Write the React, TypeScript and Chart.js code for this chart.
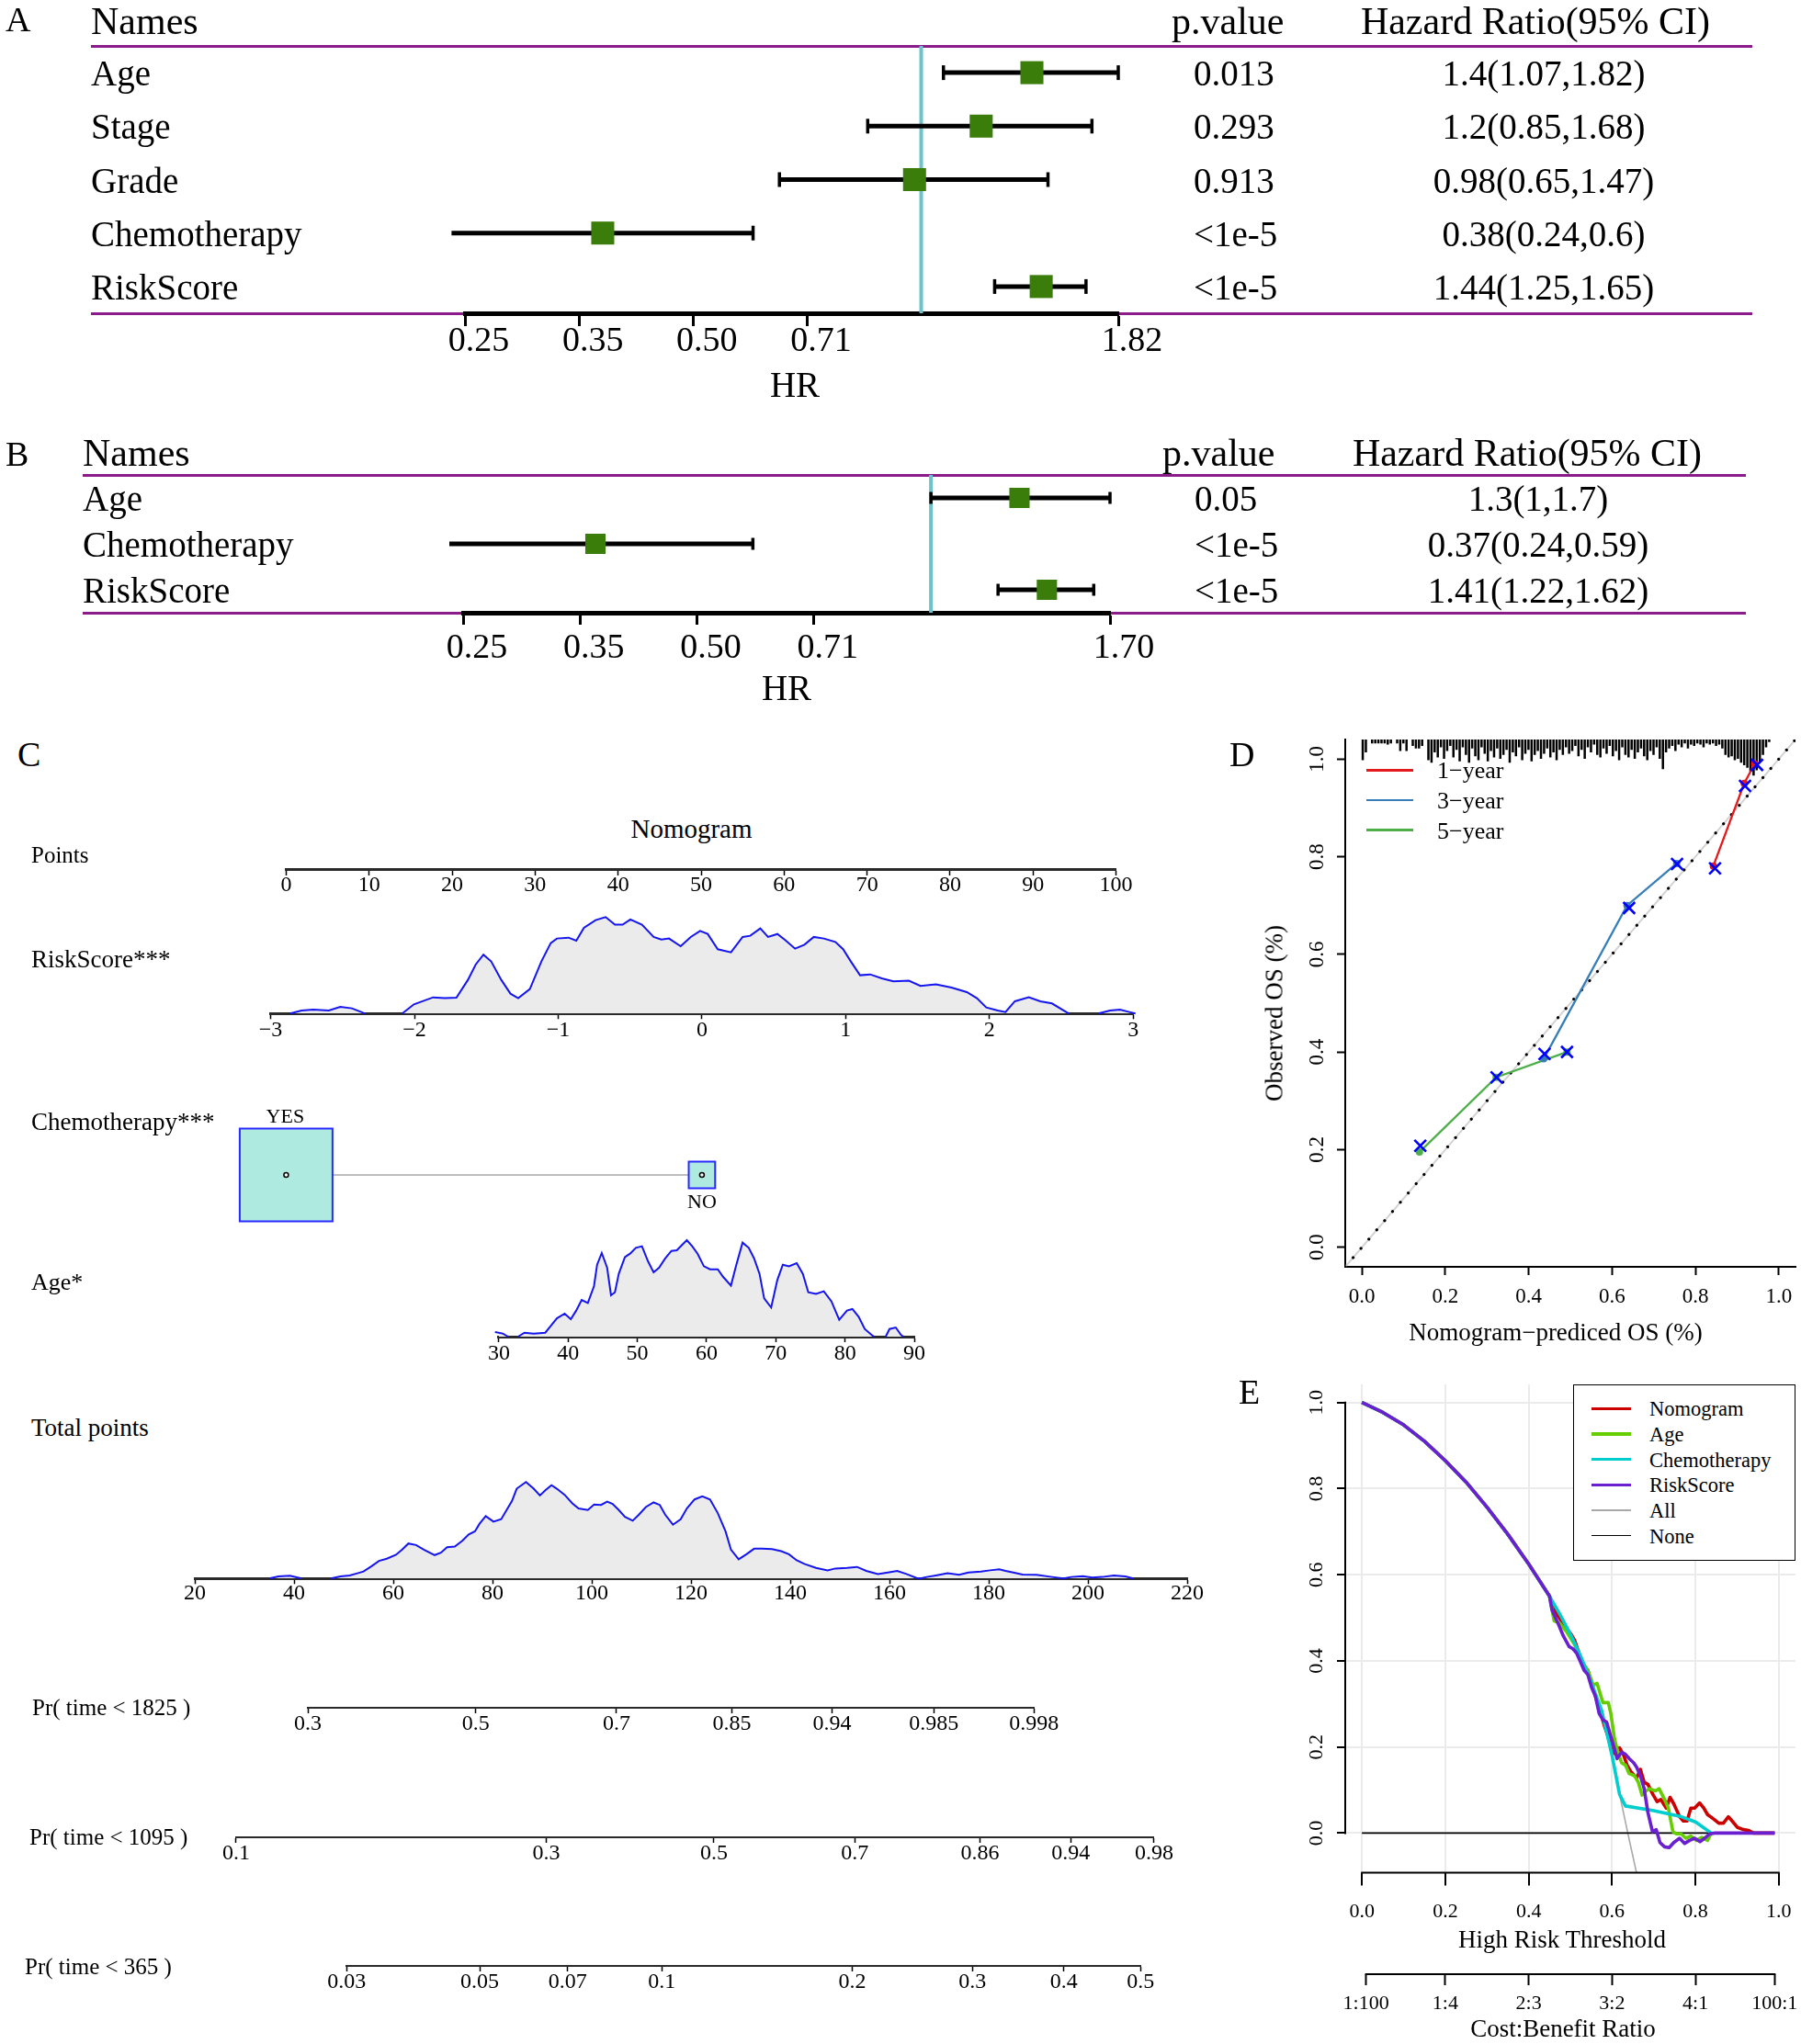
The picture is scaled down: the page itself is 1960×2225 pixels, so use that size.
import React, { useEffect, useRef } from 'react';
import { Chart, registerables } from 'chart.js';

Chart.register(...registerables);

const FONT = '"Liberation Serif", "Times New Roman", Times, serif';
Chart.defaults.font.family = FONT;
Chart.defaults.color = '#000';

/* ======================= DATA ======================= */
// Panel A – univariate Cox
const uniNames = ['Age', 'Stage', 'Grade', 'Chemotherapy', 'RiskScore'];
const uniHR = [1.4, 1.2, 0.98, 0.38, 1.44];
const uniLow = [1.07, 0.85, 0.65, 0.24, 1.25];
const uniHigh = [1.82, 1.68, 1.47, 0.6, 1.65];
const uniP = ['0.013', '0.293', '0.913', '<1e-5', '<1e-5'];
const uniAxisTicks = [0.25, 0.3536, 0.5, 0.7071, 1.82];
const uniAxisLabels = ['0.25', '0.35', '0.50', '0.71', '1.82'];

// Panel B – multivariate Cox
const multiNames = ['Age', 'Chemotherapy', 'RiskScore'];
const multiHR = [1.3, 0.37, 1.41];
const multiLow = [1, 0.24, 1.22];
const multiHigh = [1.7, 0.59, 1.62];
const multiP = ['0.05', '<1e-5', '<1e-5'];
const multiAxisTicks = [0.25, 0.3536, 0.5, 0.7071, 1.7];
const multiAxisLabels = ['0.25', '0.35', '0.50', '0.71', '1.70'];

// Panel C – nomogram
const pointsTicks = [0, 10, 20, 30, 40, 50, 60, 70, 80, 90, 100];
const riskTicks = [-3, -2, -1, 0, 1, 2, 3];
const riskTickLabels = ['\u22123', '\u22122', '\u22121', '0', '1', '2', '3'];
const riskDensity = [
  [-2.865, 0], [-2.785, 0.032], [-2.704, 0.041], [-2.596, 0.032], [-2.516, 0.07], [-2.435, 0.054], [-2.354, 0.006], [-2.343, 0],
  [-2.2, null],
  [-2.085, 0], [-2.004, 0.095], [-1.87, 0.168], [-1.789, 0.159], [-1.708, 0.165], [-1.628, 0.349], [-1.574, 0.508], [-1.52, 0.61],
  [-1.466, 0.54], [-1.396, 0.349], [-1.332, 0.206], [-1.278, 0.159], [-1.197, 0.254], [-1.117, 0.54], [-1.052, 0.73], [-1.009, 0.778],
  [-0.928, 0.787], [-0.874, 0.756], [-0.821, 0.889], [-0.74, 0.968], [-0.67, 1.0], [-0.605, 0.921], [-0.552, 0.921], [-0.498, 0.975],
  [-0.417, 0.921], [-0.336, 0.794], [-0.282, 0.768], [-0.229, 0.778], [-0.148, 0.698], [-0.078, 0.794], [-0.013, 0.857], [0.04, 0.825],
  [0.11, 0.667], [0.202, 0.635], [0.283, 0.794], [0.336, 0.806], [0.406, 0.883], [0.46, 0.794], [0.525, 0.825], [0.579, 0.762],
  [0.648, 0.673], [0.713, 0.714], [0.778, 0.794], [0.848, 0.778], [0.928, 0.743], [0.982, 0.667], [1.036, 0.54], [1.1, 0.397],
  [1.17, 0.406], [1.251, 0.365], [1.332, 0.333], [1.44, 0.34], [1.52, 0.286], [1.628, 0.302], [1.736, 0.27], [1.843, 0.222],
  [1.913, 0.159], [1.978, 0.063], [2.058, 0.032], [2.112, 0.016], [2.177, 0.127], [2.274, 0.168], [2.354, 0.127], [2.435, 0.105],
  [2.553, 0], [2.65, null], [2.758, 0], [2.839, 0.032], [2.909, 0.041], [2.973, 0.016], [3.016, 0],
];
const chemoLevels = ['YES', 'NO'];
const chemoScore = [0, 50.1];
const chemoFreq = [0.925, 0.075];
const ageTicks = [30, 40, 50, 60, 70, 80, 90];
const ageDensity = [
  [28.1, 0], [29.44, 0.048], [30.56, 0.032], [31.34, 0], [32.0, null],
  [32.79, 0], [33.69, 0.041], [35.03, 0.032], [36.7, 0.041], [37.49, 0.111], [38.38, 0.19], [39.5, 0.238], [40.39, 0.181],
  [41.17, 0.27], [41.96, 0.381], [42.85, 0.349], [43.74, 0.524], [44.19, 0.746], [44.86, 0.867], [45.64, 0.714], [46.2, 0.429],
  [46.76, 0.46], [47.32, 0.651], [48.21, 0.825], [48.99, 0.863], [49.78, 0.921], [50.67, 0.937], [51.56, 0.778], [52.35, 0.667],
  [53.13, 0.714], [54.02, 0.81], [54.92, 0.889], [55.7, 0.895], [56.48, 0.952], [57.15, 1.0], [57.93, 0.937], [58.72, 0.857],
  [59.61, 0.73], [60.5, 0.698], [61.62, 0.698], [62.4, 0.619], [63.52, 0.53], [64.3, 0.746], [65.2, 0.975], [66.09, 0.921],
  [66.87, 0.81], [67.65, 0.651], [68.32, 0.397], [69.33, 0.302], [70.22, 0.587], [71.01, 0.746], [71.9, 0.73], [73.02, 0.762],
  [73.91, 0.651], [74.69, 0.46], [75.81, 0.444], [76.93, 0.47], [78.04, 0.365], [79.16, 0.175], [80.28, 0.27], [81.06, 0.286],
  [81.96, 0.206], [82.85, 0.079], [83.97, 0.01], [84.19, 0], [85.0, null],
  [85.87, 0], [86.42, 0.079], [87.32, 0.095], [88.1, 0.016], [88.44, 0],
];
const totalTicks = [20, 40, 60, 80, 100, 120, 140, 160, 180, 200, 220];
const totalDensity = [
  [34.97, 0], [36.84, 0.022], [39.17, 0.028], [41.51, 0], [44.5, null],
  [47.44, 0], [49.31, 0.022], [51.18, 0.032], [52.74, 0.054], [53.98, 0.073], [55.54, 0.126], [57.1, 0.183], [58.66, 0.205],
  [60.53, 0.246], [61.78, 0.3], [63.02, 0.363], [64.58, 0.347], [66.14, 0.3], [68.32, 0.243], [69.57, 0.268], [70.82, 0.325],
  [72.38, 0.331], [73.94, 0.394], [75.18, 0.457], [76.43, 0.489], [77.37, 0.568], [78.61, 0.647], [80.17, 0.59], [81.73, 0.615],
  [82.82, 0.71], [83.91, 0.804], [84.85, 0.931], [86.72, 1.0], [88.28, 0.931], [89.53, 0.861], [90.62, 0.915], [91.86, 0.968],
  [92.95, 0.931], [94.51, 0.868], [96.07, 0.779], [97.32, 0.726], [99.19, 0.71], [100.44, 0.767], [101.84, 0.763], [103.09, 0.798],
  [104.18, 0.773], [105.43, 0.71], [106.67, 0.64], [108.23, 0.599], [109.48, 0.662], [110.88, 0.741], [112.44, 0.789], [113.69, 0.763],
  [114.78, 0.662], [116.34, 0.558], [117.9, 0.615], [119.14, 0.726], [120.7, 0.82], [122.26, 0.852], [123.82, 0.82], [125.38, 0.678],
  [126.94, 0.489], [128.03, 0.3], [129.59, 0.199], [131.15, 0.252], [132.71, 0.309], [134.26, 0.309], [136.29, 0.306], [138.16, 0.284],
  [139.72, 0.252], [141.28, 0.189], [142.84, 0.151], [145.18, 0.11], [147.51, 0.085], [149.07, 0.104], [151.41, 0.11], [153.44, 0.12],
  [155.31, 0.079], [157.65, 0.047], [159.67, 0.063], [161.54, 0.079], [163.41, 0.047], [165.44, 0.006], [166.22, 0], [167.47, 0.016],
  [169.34, 0.032], [171.68, 0.054], [174.02, 0.038], [175.89, 0.063], [178.38, 0.073], [180.25, 0.085], [182.12, 0.095], [183.37, 0.079],
  [184.93, 0.063], [186.8, 0.041], [189.61, 0.038], [192.73, 0.016], [195.06, 0], [196.62, 0.016], [198.96, 0.025], [200.83, 0.009],
  [202.86, 0.016], [205.19, 0.032], [207.53, 0.022], [209.09, 0],
];
const pr1825Pos = [42.76, 76.6, 104.96, 128.2, 148.4, 168.9, 189.1];
const pr1825Labels = ['0.3', '0.5', '0.7', '0.85', '0.94', '0.985', '0.998'];
const pr1095Pos = [28.3, 90.8, 124.6, 153.0, 178.2, 196.5, 213.3];
const pr1095Labels = ['0.1', '0.3', '0.5', '0.7', '0.86', '0.94', '0.98'];
const pr365Pos = [50.6, 77.4, 95.1, 114.1, 152.5, 176.7, 195.1, 210.6];
const pr365Labels = ['0.03', '0.05', '0.07', '0.1', '0.2', '0.3', '0.4', '0.5'];

// Panel D – calibration
const calTicks = [0, 0.2, 0.4, 0.6, 0.8, 1.0];
const calTickLabels = ['0.0', '0.2', '0.4', '0.6', '0.8', '1.0'];
const cal1X = [0.843, 0.917, 0.942];
const cal1Y = [0.781, 0.95, 0.99];
const cal1BcX = [0.847, 0.919, 0.948];
const cal1BcY = [0.776, 0.945, 0.988];
const cal3X = [0.436, 0.636, 0.755];
const cal3Y = [0.386, 0.7, 0.786];
const cal3BcX = [0.438, 0.641, 0.756];
const cal3BcY = [0.396, 0.695, 0.785];
const cal5X = [0.138, 0.322, 0.492];
const cal5Y = [0.195, 0.348, 0.4];
const cal5BcX = [0.14, 0.323, 0.492];
const cal5BcY = [0.208, 0.348, 0.4];
const calLegend = ['1\u2212year', '3\u2212year', '5\u2212year'];
const rugBinStart = 0.002;
const rugBinWidth = 0.0075;
const rugCounts = [16, 10, 0, 3, 3, 3, 3, 3, 4, 3, 0, 3, 9, 3, 9, 0, 5, 7, 7, 5, 0, 16, 18, 10, 14, 6, 15, 9, 5, 14,
  8, 17, 6, 12, 18, 7, 13, 16, 6, 11, 17, 9, 14, 7, 15, 12, 8, 18, 10, 13, 6, 16, 11, 8, 17, 12, 9, 15, 11, 7,
  14, 10, 16, 8, 12, 6, 11, 9, 5, 13, 8, 15, 6, 10, 4, 12, 14, 7, 11, 5, 13, 9, 16, 6, 12, 14, 8, 15, 10, 7,
  13, 16, 9, 12, 6, 15, 23, 10, 7, 5, 9, 4, 6, 3, 7, 4, 5, 3, 4, 6, 3, 4, 3, 5, 4, 7, 12, 14, 13, 16,
  15, 18, 20, 22, 25, 28, 24, 18, 12, 6, 2];

// Panel E – decision curve
const dcaTicks = [0, 0.2, 0.4, 0.6, 0.8, 1.0];
const dcaTickLabels = ['0.0', '0.2', '0.4', '0.6', '0.8', '1.0'];
const cbTicks = [0.0099, 0.2, 0.4, 0.6, 0.8, 0.99];
const cbLabels = ['1:100', '1:4', '2:3', '3:2', '4:1', '100:1'];
const dcaShared = [[0, 1.0], [0.05, 0.977], [0.1, 0.948], [0.15, 0.91], [0.2, 0.865], [0.25, 0.815], [0.3, 0.757], [0.35, 0.694], [0.4, 0.625], [0.45, 0.55]];
const dcaNomogram = [[0.465, 0.513], [0.488, 0.478], [0.501, 0.463], [0.51, 0.448], [0.519, 0.423], [0.528, 0.393], [0.542, 0.378], [0.551, 0.348],
  [0.56, 0.318], [0.573, 0.278], [0.582, 0.248], [0.591, 0.223], [0.6, 0.188], [0.61, 0.183], [0.618, 0.198], [0.627, 0.183], [0.636, 0.158],
  [0.645, 0.143], [0.659, 0.128], [0.668, 0.148], [0.677, 0.118], [0.686, 0.113], [0.699, 0.088], [0.708, 0.073], [0.717, 0.078], [0.73, 0.058],
  [0.739, 0.083], [0.748, 0.068], [0.762, 0.038], [0.771, 0.028], [0.78, 0.028], [0.789, 0.058], [0.798, 0.058], [0.81, 0.07], [0.82, 0.058],
  [0.829, 0.043], [0.843, 0.033], [0.856, 0.023], [0.867, 0.023], [0.879, 0.038], [0.888, 0.028], [0.901, 0.013], [0.915, 0.008], [0.928, 0.006],
  [0.939, 0], [0.99, 0]];
const dcaAge = [[0.461, 0.493], [0.475, 0.487], [0.492, 0.466], [0.51, 0.438], [0.528, 0.398], [0.542, 0.378], [0.555, 0.343], [0.564, 0.348],
  [0.578, 0.303], [0.591, 0.303], [0.597, 0.278], [0.606, 0.218], [0.614, 0.188], [0.623, 0.163], [0.632, 0.158], [0.641, 0.138], [0.654, 0.133],
  [0.663, 0.118], [0.672, 0.088], [0.681, 0.098], [0.69, 0.103], [0.704, 0.098], [0.713, 0.103], [0.726, 0.078], [0.735, 0.058], [0.746, 0.003],
  [0.755, -0.002], [0.766, -0.002], [0.777, -0.012], [0.789, -0.007], [0.802, -0.017], [0.815, -0.01], [0.829, -0.017], [0.838, 0]];
const dcaChemo = [[0.475, 0.508], [0.5, 0.462], [0.525, 0.41], [0.55, 0.35], [0.575, 0.285], [0.6, 0.18], [0.618, 0.09], [0.632, 0.063],
  [0.7, 0.052], [0.766, 0.038], [0.8, 0.026], [0.838, 0]];
const dcaRisk = [[0.456, 0.518], [0.47, 0.488], [0.483, 0.458], [0.497, 0.433], [0.506, 0.428], [0.515, 0.418], [0.524, 0.398], [0.533, 0.378],
  [0.542, 0.368], [0.551, 0.338], [0.56, 0.318], [0.569, 0.278], [0.578, 0.263], [0.587, 0.258], [0.596, 0.228], [0.605, 0.198], [0.612, 0.173],
  [0.623, 0.188], [0.632, 0.183], [0.641, 0.173], [0.652, 0.163], [0.659, 0.153], [0.668, 0.133], [0.677, 0.103], [0.686, 0.048], [0.697, 0.003],
  [0.706, 0.008], [0.715, -0.022], [0.726, -0.032], [0.737, -0.034], [0.748, -0.022], [0.762, -0.012], [0.774, -0.024], [0.786, -0.017],
  [0.798, -0.012], [0.811, -0.02], [0.822, -0.012], [0.834, -0.002], [0.847, 0], [0.99, 0]];
const dcaAll = [[0.475, 0.508], [0.5, 0.462], [0.525, 0.41], [0.55, 0.35], [0.575, 0.285], [0.6, 0.18], [0.618, 0.09], [0.64, -0.01], [0.665, -0.12]];
const dcaNone = [[0, 0], [0.99, 0]];
const dcaLegend = ['Nomogram', 'Age', 'Chemotherapy', 'RiskScore', 'All', 'None'];

/* ======================= STYLE / LAYOUT ======================= */
const PURPLE = '#8b1a8b';
const GREEN = '#3a7d0a';
const CYAN = '#6cc3ca';
const DENS_LINE = '#1515f0';
const DENS_FILL = '#ebebeb';
const CAL_COLORS = ['#E41A1C', '#377EB8', '#4DAF4A'];
const DCA_COLORS = ['#CD0000', '#66CD00', '#00CDCD', '#6a1fd0', '#a8a8a8', '#000000'];
const DCA_WIDTHS = [3.6, 3.6, 3.6, 3.6, 1.6, 1.8];

const PTS_L = 311.4, PTS_R = 1214.6;       // Points axis 0..100
const TP_X0 = 212.1, TP_PER = 5.4;         // total points axis: px of 20, px per point
const tpPx = (v: number) => TP_X0 + (v - 20) * TP_PER;
const BOX_FULL = 105;                      // side (px) of a box holding 100% of the sample
const RUG_UNIT = 1.4 / 532;                // rug: y-units per count

/* ======================= HELPERS ======================= */
const rAxisPlugin: any = {
  id: 'rAxis',
  afterDraw(chart: any, _a: any, opts: any) {
    const ctx = chart.ctx;
    (opts.lines || []).forEach((l: any) => {
      const s = chart.scales[l.id];
      const t = s.ticks;
      if (!t.length) return;
      const a = s.getPixelForValue(t[0].value);
      const b = s.getPixelForValue(t[t.length - 1].value);
      ctx.save();
      ctx.strokeStyle = '#000';
      ctx.lineWidth = l.width || 2;
      ctx.beginPath();
      if (s.isHorizontal()) { ctx.moveTo(a - 1, s.top); ctx.lineTo(b + 1, s.top); }
      else { ctx.moveTo(s.right, a + 1); ctx.lineTo(s.right, b - 1); }
      ctx.stroke();
      ctx.restore();
    });
    (opts.yLabels || []).forEach((l: any) => {
      const s = chart.scales[l.id];
      ctx.save();
      ctx.font = `${l.size}px ${FONT}`;
      ctx.fillStyle = '#000';
      ctx.textAlign = 'center';
      ctx.textBaseline = 'middle';
      s.ticks.forEach((t: any) => {
        const p = s.getPixelForValue(t.value);
        ctx.save();
        ctx.translate(s.right - l.offset, p);
        ctx.rotate(-Math.PI / 2);
        ctx.fillText(t.label, 0, 0);
        ctx.restore();
      });
      ctx.restore();
    });
  },
};

function baseOptions(pad: any, scales: any, extra: any = {}) {
  return {
    responsive: false, animation: false, devicePixelRatio: 1, events: [],
    layout: { padding: pad, autoPadding: false },
    plugins: { legend: { display: false }, tooltip: { enabled: false }, ...extra },
    scales,
  };
}

function hAxis(o: any) {
  return {
    type: o.type || 'linear', position: 'bottom', min: o.min, max: o.max, weight: o.weight || 0,
    afterBuildTicks: (s: any) => { s.ticks = o.ticks.map((v: number) => ({ value: v })); },
    afterFit: (s: any) => { s.height = o.height; s.paddingLeft = 0; s.paddingRight = 0; },
    ticks: {
      callback: (_v: any, i: number) => o.labels[i], font: { family: FONT, size: o.fontSize }, color: '#000',
      padding: o.tickPad, labelOffset: o.labelOffset || 0, autoSkip: false, maxRotation: 0, minRotation: 0,
    },
    grid: {
      drawOnChartArea: !!o.gridColor, color: o.gridColor || '#000', lineWidth: o.gridWidth || 1,
      drawTicks: true, tickLength: o.tickLen, tickWidth: o.tickWidth, tickColor: '#000',
    },
    border: { display: (o.borderWidth || 0) > 0, color: o.borderColor || '#000', width: o.borderWidth || 1 },
  };
}

function vAxis(o: any) {
  return {
    type: 'linear', position: 'left', min: o.min, max: o.max,
    afterBuildTicks: (s: any) => { s.ticks = o.ticks.map((v: number) => ({ value: v })); },
    afterFit: (s: any) => { s.width = o.width; s.paddingTop = 0; s.paddingBottom = 0; },
    ticks: { display: false, callback: (_v: any, i: number) => o.labels[i] },
    grid: {
      drawOnChartArea: !!o.gridColor, color: o.gridColor || '#000', lineWidth: o.gridWidth || 1,
      drawTicks: true, tickLength: o.tickLen, tickWidth: o.tickWidth, tickColor: '#000',
    },
    border: { display: (o.borderWidth || 0) > 0, color: '#000', width: o.borderWidth || 1 },
  };
}

const pairs = (arr: any[]) => arr.map(([x, y]) => ({ x, y }));
const zip = (xs: number[], ys: number[]) => xs.map((x, i) => ({ x, y: ys[i] }));

/* ---------- forest ---------- */
function makeForest(hr: number[], lo: number[], hi: number[], ticks: number[], labels: string[], o: any) {
  return () => ({
    type: 'scatter',
    data: {
      datasets: [
        { data: hr.map((v, i) => ({ x: v, y: i })), pointStyle: 'rect', pointRadius: o.box, pointBackgroundColor: GREEN, pointBorderColor: GREEN, pointBorderWidth: 0, clip: false },
        ...hr.map((_v, i) => ({
          data: [{ x: lo[i], y: i }, { x: hi[i], y: i }], showLine: true, borderColor: '#000', borderWidth: 5, clip: false,
          pointStyle: 'line', pointRotation: 90, pointRadius: o.cap, pointBorderWidth: 3.5, pointBorderColor: '#000', pointBackgroundColor: '#000',
        })),
        { data: [{ x: 1, y: -0.5 }, { x: 1, y: hr.length - 0.5 }], showLine: true, borderColor: CYAN, borderWidth: 4, pointRadius: 0 },
      ],
    },
    options: baseOptions(o.pad, {
      x: hAxis({ type: 'logarithmic', min: ticks[0], max: ticks[ticks.length - 1], ticks, labels, height: 60, fontSize: 38,
        tickPad: o.tickPad, labelOffset: 15, tickLen: o.tickLen, tickWidth: 3, borderWidth: 5 }),
      y: { type: 'linear', display: false, reverse: true, min: -0.5, max: hr.length - 0.5 },
    }),
  });
}

/* ---------- nomogram rows ---------- */
const densDataset = (arr: any[]) => ({
  data: pairs(arr), showLine: true, borderColor: DENS_LINE, borderWidth: 2, backgroundColor: DENS_FILL,
  fill: 'origin', pointRadius: 0, spanGaps: false, clip: false, tension: 0,
});

function makeNomoAxis(o: any) {
  return () => ({
    type: 'scatter',
    data: { datasets: o.datasets || [] },
    options: baseOptions(o.pad, {
      x: hAxis({ min: o.min, max: o.max, ticks: o.ticks, labels: o.labels, height: 40, fontSize: 24,
        tickPad: o.tickPad, tickLen: o.tickLen, tickWidth: 1.5, borderWidth: o.borderWidth, borderColor: '#2a2a2a' }),
      y: { type: 'linear', display: false, min: 0, max: o.ymax || 1 },
    }),
  });
}

const makeChemo = () => ({
  type: 'scatter',
  data: {
    datasets: [
      { data: chemoScore.map((x) => ({ x, y: 0.5 })), pointStyle: 'circle', pointRadius: 2.5, pointBackgroundColor: '#fff', pointBorderColor: '#000', pointBorderWidth: 1.5, clip: false },
      { data: chemoScore.map((x) => ({ x, y: 0.5 })), pointStyle: 'rect', pointRadius: chemoFreq.map((f) => BOX_FULL * Math.sqrt(f) * Math.SQRT1_2),
        pointBackgroundColor: '#aeeadf', pointBorderColor: '#2a2aff', pointBorderWidth: 2, clip: false },
      { data: chemoScore.map((x) => ({ x, y: 0.5 })), showLine: true, borderColor: '#bdbdbd', borderWidth: 2, pointRadius: 0 },
    ],
  },
  options: baseOptions({ left: PTS_L, right: 1320 - PTS_R, top: 29, bottom: 21 }, {
    x: { type: 'linear', display: false, min: 0, max: 100 },
    y: { type: 'linear', display: false, min: 0, max: 1 },
  }),
});

/* ---------- calibration ---------- */
function rugData() {
  const out: any[] = [];
  rugCounts.forEach((c, i) => {
    if (!c) return;
    const x = rugBinStart + i * rugBinWidth;
    out.push({ x, y: 1.045 }, { x, y: 1.04 - c * RUG_UNIT }, { x, y: null });
  });
  return out;
}

const makeCalib = () => ({
  type: 'scatter',
  plugins: [rAxisPlugin],
  data: {
    datasets: [
      { data: [...zip(cal1BcX, cal1BcY), ...zip(cal3BcX, cal3BcY), ...zip(cal5BcX, cal5BcY)], pointStyle: 'crossRot', pointRadius: 9,
        pointBorderColor: '#0000ff', pointBorderWidth: 2.6, pointBackgroundColor: 'rgba(0,0,0,0)', clip: false },
      ...[[cal1X, cal1Y], [cal3X, cal3Y], [cal5X, cal5Y]].map(([xs, ys], k) => ({
        data: zip(xs, ys), showLine: true, borderColor: CAL_COLORS[k], borderWidth: 2.3, pointRadius: 4,
        pointBackgroundColor: CAL_COLORS[k], pointBorderColor: CAL_COLORS[k], pointBorderWidth: 0,
      })),
      { data: rugData(), showLine: true, borderColor: '#000', borderWidth: 2.5, pointRadius: 0, spanGaps: false },
      { data: [{ x: -0.04, y: -0.04 }, { x: 1.04, y: 1.04 }], showLine: true, borderColor: '#000', borderWidth: 3.2,
        borderDash: [0.01, 13.2], borderCapStyle: 'round', pointRadius: 0 },
      { data: [{ x: -0.04, y: -0.04 }, { x: 1.04, y: 1.04 }], showLine: true, borderColor: '#d3d3d3', borderWidth: 2, pointRadius: 0 },
    ],
  },
  options: baseOptions({ left: 104, right: 6, top: 10, bottom: 46 }, {
    x: hAxis({ min: -0.04, max: 1.04, ticks: calTicks, labels: calTickLabels, height: 60, fontSize: 23, tickPad: 10,
      tickLen: 9, tickWidth: 2, borderWidth: 2 }),
    y: vAxis({ min: -0.04, max: 1.04, ticks: calTicks, labels: calTickLabels, width: 40, tickLen: 9, tickWidth: 2, borderWidth: 2 }),
  }, { rAxis: { yLabels: [{ id: 'y', offset: 30, size: 23 }] } }),
});

/* ---------- decision curve ---------- */
const makeDca = () => {
  const series = [
    [...dcaShared, ...dcaRisk],
    [...dcaShared, ...dcaChemo],
    [...dcaShared, ...dcaAge],
    [...dcaShared, ...dcaNomogram],
    dcaNone,
    [...dcaShared, ...dcaAll],
  ];
  const colorIdx = [3, 2, 1, 0, 5, 4];
  return {
    type: 'scatter',
    plugins: [rAxisPlugin],
    data: {
      datasets: series.map((s, k) => ({
        data: pairs(s), showLine: true, borderColor: DCA_COLORS[colorIdx[k]], borderWidth: DCA_WIDTHS[colorIdx[k]],
        pointRadius: 0, tension: 0, borderJoinStyle: 'round',
      })),
    },
    options: baseOptions({ left: 104, right: 6, top: 17, bottom: 0 }, {
      x: hAxis({ min: -0.04, max: 1.04, ticks: dcaTicks, labels: dcaTickLabels, height: 110.5, fontSize: 22, tickPad: 16,
        tickLen: 14, tickWidth: 2, borderWidth: 0, gridColor: '#ebebeb', gridWidth: 2 }),
      x2: hAxis({ min: -0.04, max: 1.04, ticks: cbTicks, labels: cbLabels, height: 76, fontSize: 22, tickPad: 7,
        tickLen: 12, tickWidth: 2, borderWidth: 0, weight: 1 }),
      y: vAxis({ min: -0.092, max: 1.042, ticks: dcaTicks, labels: dcaTickLabels, width: 40, tickLen: 9, tickWidth: 2,
        borderWidth: 0, gridColor: '#ebebeb', gridWidth: 2 }),
    }, { rAxis: { lines: [{ id: 'x', width: 2 }, { id: 'x2', width: 2 }, { id: 'y', width: 2 }], yLabels: [{ id: 'y', offset: 31, size: 22 }] } }),
  };
};

/* ======================= COMPONENTS ======================= */
function ChartBox({ x, y, w, h, make }: { x: number; y: number; w: number; h: number; make: () => any }) {
  const ref = useRef<HTMLCanvasElement | null>(null);
  useEffect(() => {
    if (!ref.current) return;
    const chart = new Chart(ref.current, make());
    return () => chart.destroy();
  }, []);
  return <canvas ref={ref} width={w} height={h} style={{ position: 'absolute', left: x, top: y, width: w, height: h }} />;
}

function T({ x, y, s, a = 'l', rot = false, children }: any) {
  const tx = a === 'l' ? '0' : a === 'c' ? '-50%' : '-100%';
  return (
    <div style={{
      position: 'absolute', left: x, top: y, fontSize: s, lineHeight: 1, whiteSpace: 'pre', color: '#000', fontFamily: FONT,
      transform: `translate(${tx},-50%)${rot ? ' rotate(-90deg)' : ''}`,
    }}>{children}</div>
  );
}

const HLine = ({ x1, x2, y, c, w }: any) => (
  <div style={{ position: 'absolute', left: x1, top: y - w / 2, width: x2 - x1, height: w, background: c }} />
);

const rowA = (i: number) => 50 + (i + 0.5) * (291 / uniNames.length);
const rowB = (i: number) => 517 + (i + 0.5) * (150 / multiNames.length);

export default function App() {
  const ptsPx = (v: number) => PTS_L + (v / 100) * (PTS_R - PTS_L);
  const prChart = (pos: number[], labels: string[], axisY: number, pad: number) => (
    <ChartBox x={0} y={axisY - 26} w={1320} h={70}
      make={makeNomoAxis({ min: pos[0], max: pos[pos.length - 1], ticks: pos, labels, tickPad: pad, tickLen: 6, borderWidth: 2,
        pad: { left: tpPx(pos[0]), right: 1320 - tpPx(pos[pos.length - 1]), top: 24, bottom: 4 } })} />
  );
  return (
    <div style={{ position: 'absolute', left: 0, top: 0, width: 1960, height: 2225, background: '#fff', overflow: 'hidden', fontFamily: FONT }}>
      {/* table rules */}
      <HLine x1={99} x2={1907} y={50} c={PURPLE} w={3} />
      <HLine x1={99} x2={1907} y={341} c={PURPLE} w={3} />
      <HLine x1={90} x2={1900} y={517} c={PURPLE} w={3} />
      <HLine x1={90} x2={1900} y={667} c={PURPLE} w={3} />

      {/* A & B forest plots */}
      <ChartBox x={0} y={0} w={1960} h={440}
        make={makeForest(uniHR, uniLow, uniHigh, uniAxisTicks, uniAxisLabels, { box: 17.7, cap: 8, tickLen: 14, tickPad: -6,
          pad: { left: 506, right: 743, top: 50, bottom: 39 } })} />
      <ChartBox x={0} y={460} w={1960} h={310}
        make={makeForest(multiHR, multiLow, multiHigh, multiAxisTicks, multiAxisLabels, { box: 15.6, cap: 6.5, tickLen: 13, tickPad: 3,
          pad: { left: 504, right: 752, top: 57, bottom: 43 } })} />

      {/* C nomogram */}
      <ChartBox x={0} y={920} w={1320} h={70}
        make={makeNomoAxis({ min: 0, max: 100, ticks: pointsTicks, labels: pointsTicks.map(String), tickPad: -4, tickLen: 7, borderWidth: 3,
          pad: { left: PTS_L, right: 1320 - PTS_R, top: 24, bottom: 4 } })} />
      <ChartBox x={0} y={980} w={1320} h={180}
        make={makeNomoAxis({ min: -3, max: 3, ticks: riskTicks, labels: riskTickLabels, tickPad: -2, tickLen: 6, borderWidth: 3, ymax: 1.0476,
          datasets: [densDataset(riskDensity)], pad: { left: 294.6, right: 1320 - 1233.2, top: 13.3, bottom: 16.7 } })} />
      <ChartBox x={0} y={1190} w={1320} h={170} make={makeChemo} />
      <ChartBox x={0} y={1330} w={1320} h={170}
        make={makeNomoAxis({ min: 30, max: 90, ticks: ageTicks, labels: ageTicks.map(String), tickPad: -2, tickLen: 6, borderWidth: 3, ymax: 1.0476,
          datasets: [densDataset(ageDensity)], pad: { left: 542.9, right: 1320 - 995, top: 15, bottom: 5 } })} />
      <ChartBox x={0} y={1590} w={1320} h={180}
        make={makeNomoAxis({ min: 20, max: 220, ticks: totalTicks, labels: totalTicks.map(String), tickPad: -4, tickLen: 6, borderWidth: 3, ymax: 1.0476,
          datasets: [densDataset(totalDensity)], pad: { left: TP_X0, right: 1320 - tpPx(220), top: 18.3, bottom: 11.7 } })} />
      {prChart(pr1825Pos, pr1825Labels, 1859, -3)}
      {prChart(pr1095Pos, pr1095Labels, 2000, -3)}
      {prChart(pr365Pos, pr365Labels, 2140, -3)}

      {/* D & E */}
      <ChartBox x={1320} y={795} w={640} h={690} make={makeCalib} />
      <ChartBox x={1320} y={1490} w={640} h={735} make={makeDca} />

      {/* ---------- texts A ---------- */}
      <T x={6} y={20.5} s={38}>A</T>
      <T x={99} y={23} s={42}>Names</T>
      <T x={1275} y={23} s={42}>p.value</T>
      <T x={1671} y={23} s={42} a="c">Hazard Ratio(95% CI)</T>
      {uniNames.map((n, i) => <T key={'an' + i} x={99} y={rowA(i)} s={39}>{n}</T>)}
      {uniP.map((p, i) => <T key={'ap' + i} x={1299} y={rowA(i)} s={39}>{p}</T>)}
      {uniHR.map((h, i) => <T key={'ah' + i} x={1680} y={rowA(i)} s={39} a="c">{`${h}(${uniLow[i]},${uniHigh[i]})`}</T>)}
      <T x={865} y={417.5} s={39} a="c">HR</T>

      {/* ---------- texts B ---------- */}
      <T x={6} y={494} s={38}>B</T>
      <T x={90} y={493} s={42}>Names</T>
      <T x={1265} y={493} s={42}>p.value</T>
      <T x={1662} y={493} s={42} a="c">Hazard Ratio(95% CI)</T>
      {multiNames.map((n, i) => <T key={'bn' + i} x={90} y={rowB(i)} s={39}>{n}</T>)}
      {multiP.map((p, i) => <T key={'bp' + i} x={1300} y={rowB(i)} s={39}>{p}</T>)}
      {multiHR.map((h, i) => <T key={'bh' + i} x={1674} y={rowB(i)} s={39} a="c">{`${h}(${multiLow[i]},${multiHigh[i]})`}</T>)}
      <T x={856} y={748} s={39} a="c">HR</T>

      {/* ---------- texts C ---------- */}
      <T x={19} y={820.5} s={38}>C</T>
      <T x={752.5} y={901.7} s={29} a="c">Nomogram</T>
      <T x={34} y={930} s={25}>Points</T>
      <T x={34} y={1044} s={27}>RiskScore***</T>
      <T x={34} y={1221} s={27}>Chemotherapy***</T>
      <T x={ptsPx(chemoScore[0]) - 1} y={1215} s={22} a="c">{chemoLevels[0]}</T>
      <T x={ptsPx(chemoScore[1])} y={1308} s={22} a="c">{chemoLevels[1]}</T>
      <T x={34} y={1396} s={26}>Age*</T>
      <T x={34} y={1554} s={27}>Total points</T>
      <T x={35} y={1858} s={25}>Pr( time &lt; 1825 )</T>
      <T x={32} y={1999} s={25}>Pr( time &lt; 1095 )</T>
      <T x={27} y={2140} s={25}>Pr( time &lt; 365 )</T>

      {/* ---------- texts D ---------- */}
      <T x={1338} y={821} s={38}>D</T>
      {calLegend.map((t, k) => (
        <React.Fragment key={'cl' + k}>
          <HLine x1={1487} x2={1538} y={838.2 + k * 32.8} c={CAL_COLORS[k]} w={2.8} />
          <T x={1564} y={839 + k * 32.8} s={26}>{t}</T>
        </React.Fragment>
      ))}
      <T x={1693} y={1450} s={27} a="c">{'Nomogram\u2212prediced OS (%)'}</T>
      <T x={1387} y={1103} s={27} a="c" rot>Observed OS (%)</T>

      {/* ---------- texts E ---------- */}
      <T x={1348} y={1514.6} s={38}>E</T>
      <div style={{ position: 'absolute', left: 1712, top: 1507, width: 242, height: 192, border: '1.5px solid #000', background: '#fff', boxSizing: 'border-box' }} />
      {dcaLegend.map((t, k) => (
        <React.Fragment key={'dl' + k}>
          <HLine x1={1732} x2={1775} y={1533.3 + k * 27.68} c={DCA_COLORS[k]} w={DCA_WIDTHS[k] - 0.4} />
          <T x={1795} y={1534.3 + k * 27.68} s={22.5}>{t}</T>
        </React.Fragment>
      ))}
      <T x={1700} y={2111} s={27} a="c">High Risk Threshold</T>
      <T x={1701} y={2208} s={27} a="c">Cost:Benefit Ratio</T>
    </div>
  );
}
